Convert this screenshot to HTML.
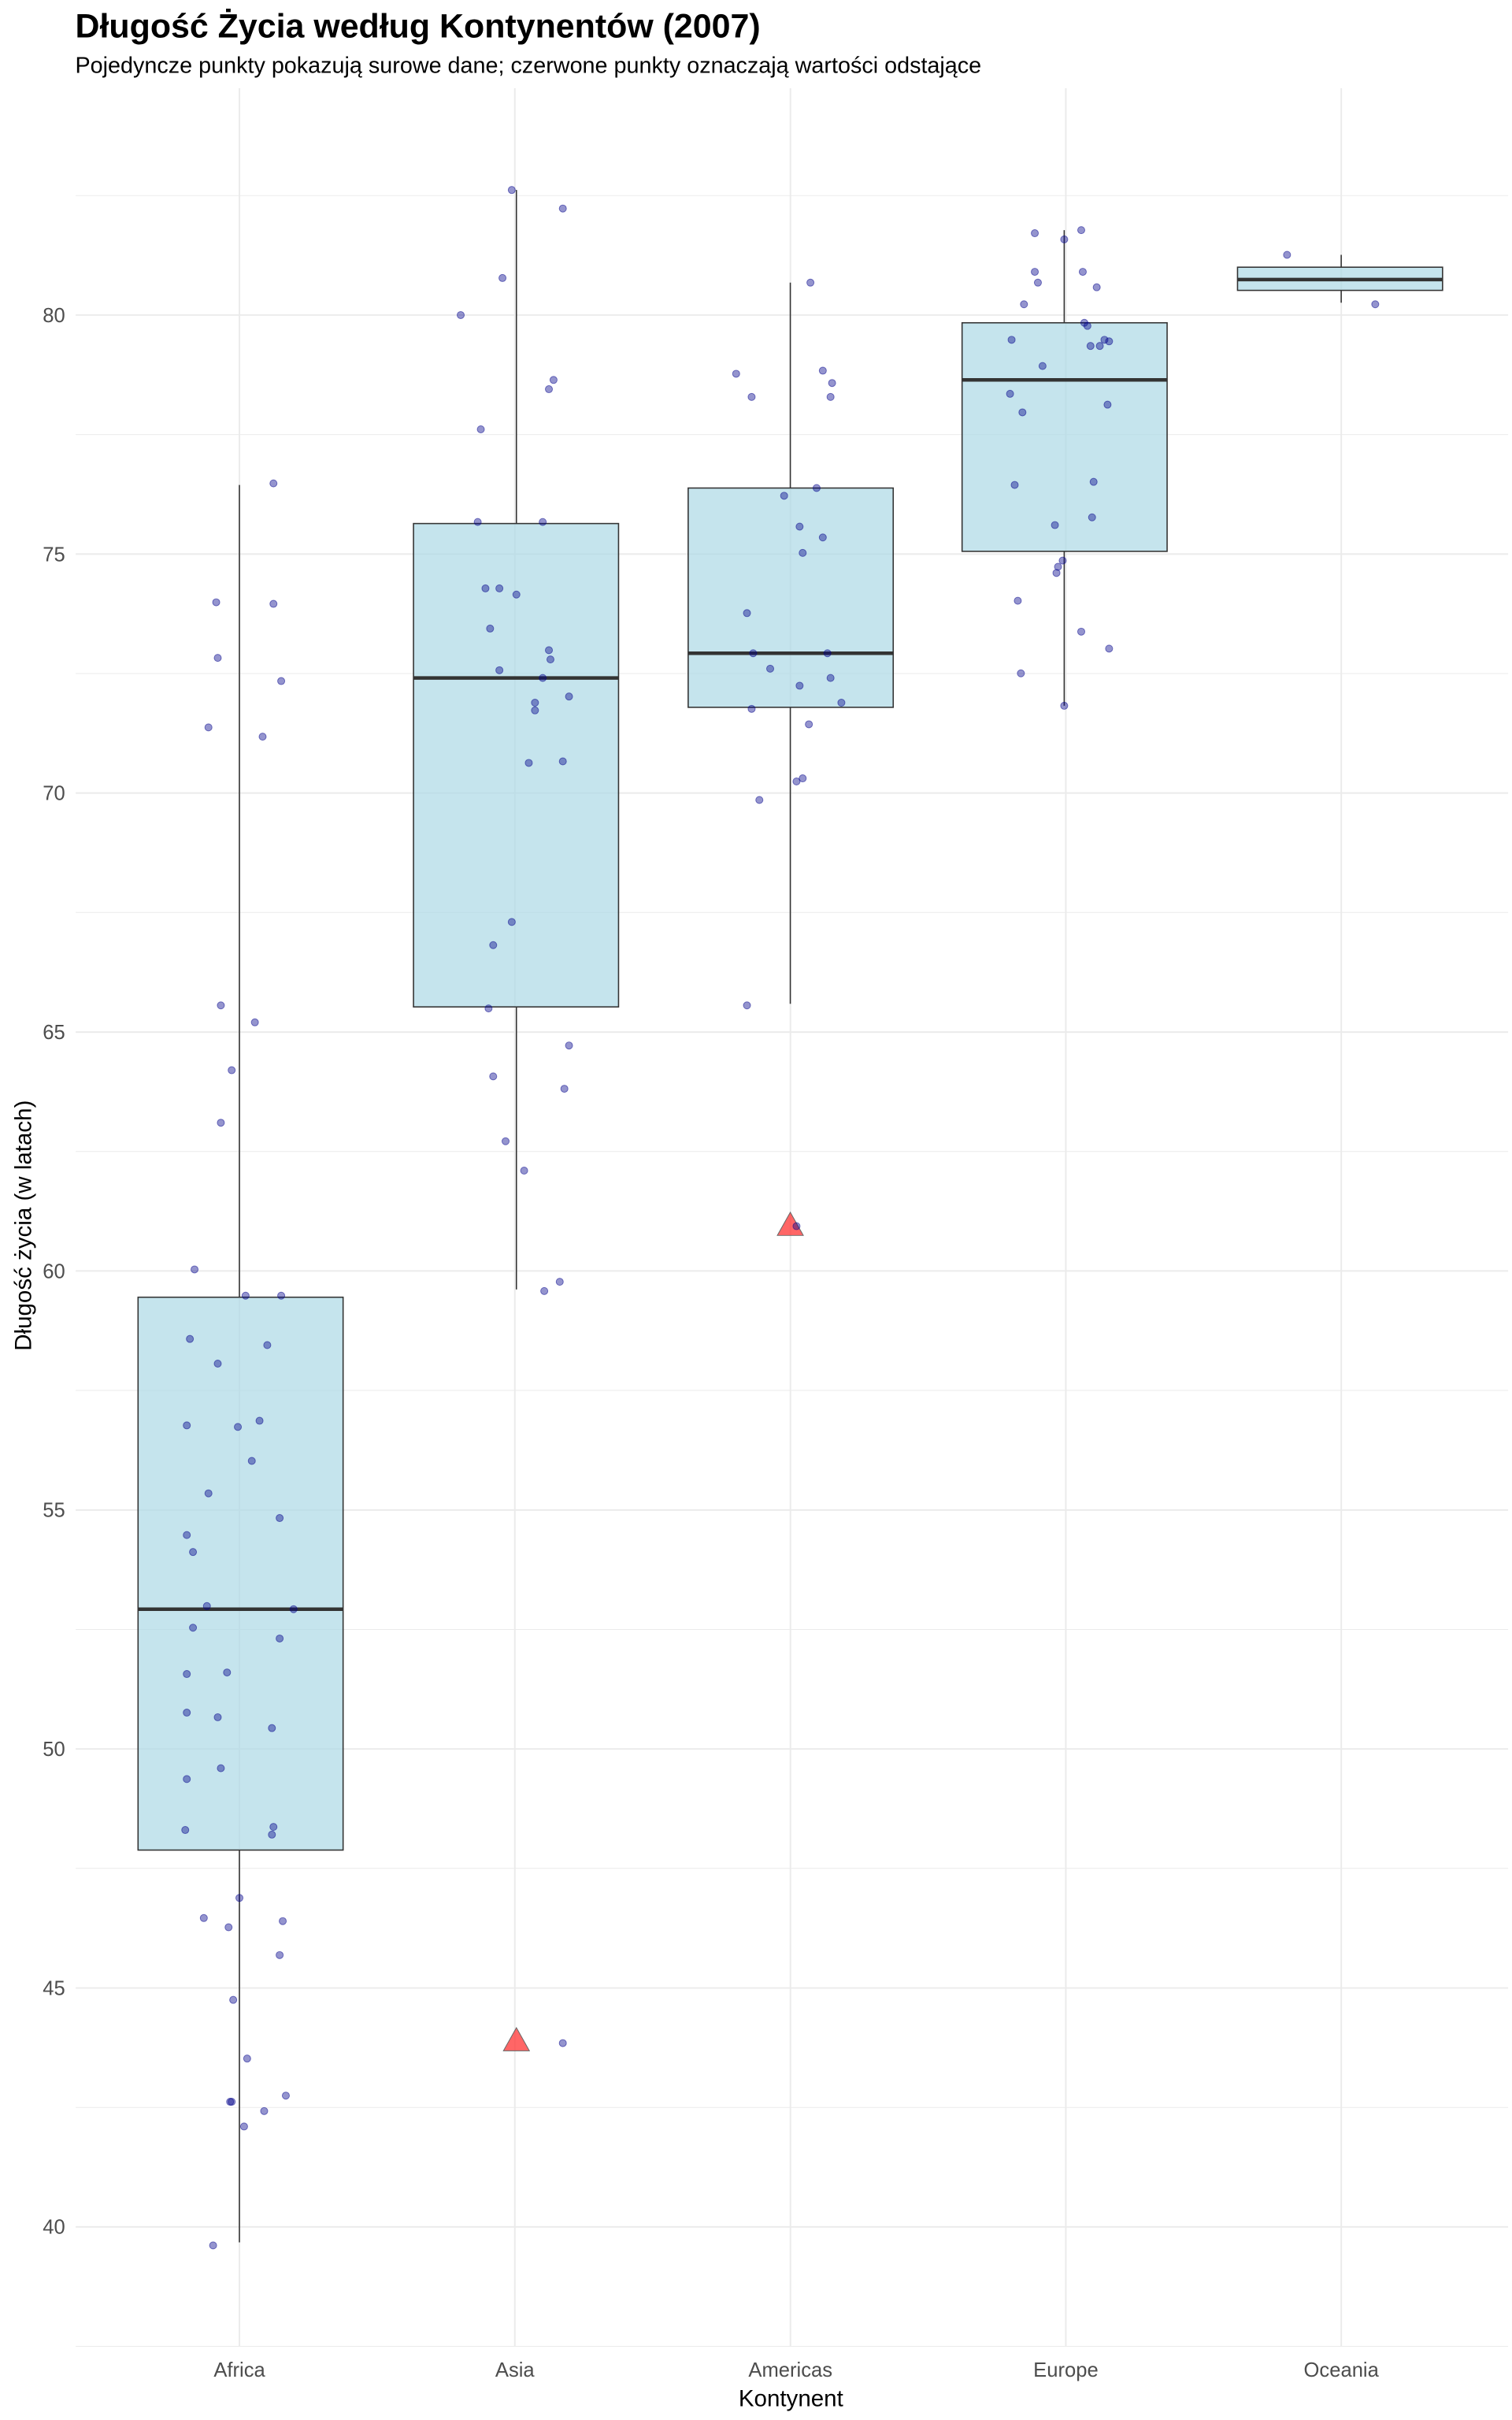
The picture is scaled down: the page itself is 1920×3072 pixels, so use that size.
<!DOCTYPE html>
<html><head><meta charset="utf-8"><style>html,body{margin:0;padding:0;background:#fff}svg{display:block}</style></head>
<body>
<svg xmlns="http://www.w3.org/2000/svg" width="1920" height="3072" viewBox="0 0 975 1560" font-family="Liberation Sans, Arial, sans-serif">
<rect width="975" height="1560" fill="#fff"/>
<g stroke="#ebebeb" stroke-width="0.5">
<line x1="48.8" x2="972.5" y1="126.1" y2="126.1"/><line x1="48.8" x2="972.5" y1="280.1" y2="280.1"/><line x1="48.8" x2="972.5" y1="434.2" y2="434.2"/><line x1="48.8" x2="972.5" y1="588.2" y2="588.2"/><line x1="48.8" x2="972.5" y1="742.3" y2="742.3"/><line x1="48.8" x2="972.5" y1="896.3" y2="896.3"/><line x1="48.8" x2="972.5" y1="1050.4" y2="1050.4"/><line x1="48.8" x2="972.5" y1="1204.4" y2="1204.4"/><line x1="48.8" x2="972.5" y1="1358.5" y2="1358.5"/><line x1="48.8" x2="972.5" y1="1512.5" y2="1512.5"/>
</g>
<g stroke="#ebebeb" stroke-width="1">
<line x1="48.8" x2="972.5" y1="203.1" y2="203.1"/><line x1="48.8" x2="972.5" y1="357.2" y2="357.2"/><line x1="48.8" x2="972.5" y1="511.2" y2="511.2"/><line x1="48.8" x2="972.5" y1="665.3" y2="665.3"/><line x1="48.8" x2="972.5" y1="819.3" y2="819.3"/><line x1="48.8" x2="972.5" y1="973.4" y2="973.4"/><line x1="48.8" x2="972.5" y1="1127.4" y2="1127.4"/><line x1="48.8" x2="972.5" y1="1281.5" y2="1281.5"/><line x1="48.8" x2="972.5" y1="1435.5" y2="1435.5"/>
<line x1="154.4" x2="154.4" y1="56.9" y2="1512.5"/><line x1="332.0" x2="332.0" y1="56.9" y2="1512.5"/><line x1="509.7" x2="509.7" y1="56.9" y2="1512.5"/><line x1="687.3" x2="687.3" y1="56.9" y2="1512.5"/><line x1="864.9" x2="864.9" y1="56.9" y2="1512.5"/>
</g>
<g transform="matrix(0.99787 0 0 0.99548 0.71 -0.97)">
<g stroke="#333" stroke-width="0.8">
<line x1="154" x2="154" y1="315" y2="841"/><line x1="154" x2="154" y1="1199" y2="1453"/>
<line x1="333" x2="333" y1="124" y2="340"/><line x1="333" x2="333" y1="653" y2="836"/>
<line x1="510" x2="510" y1="184" y2="317"/><line x1="510" x2="510" y1="459" y2="651"/>
<line x1="687" x2="687" y1="150" y2="210"/><line x1="687" x2="687" y1="358" y2="458"/>
<line x1="866" x2="866" y1="166" y2="174"/><line x1="866" x2="866" y1="189" y2="197"/>
</g>
<g fill="#add8e6" fill-opacity="0.7" stroke="#333" stroke-width="0.8">
<rect x="88.5" y="841" width="132.5" height="358"/>
<rect x="266.5" y="340" width="132.5" height="313"/>
<rect x="444" y="317" width="132.5" height="142"/>
<rect x="621" y="210" width="132.5" height="148"/>
<rect x="799" y="174" width="132.5" height="15"/>
</g>
<g stroke="#333" stroke-width="2.3">
<line x1="88.5" x2="221" y1="1043" y2="1043"/>
<line x1="266.5" x2="399" y1="440" y2="440"/>
<line x1="444" x2="576.5" y1="424" y2="424"/>
<line x1="621" x2="753.5" y1="247" y2="247"/>
<line x1="799" x2="931.5" y1="182" y2="182"/>
</g>
<g fill="#ff3333" fill-opacity="0.75" stroke="#666" stroke-width="0.5">
<polygon points="333,1314 324.6,1329 341.4,1329"/>
<polygon points="510,786 501.6,801 518.4,801"/>
</g>
<g fill="#00008b" fill-opacity="0.42" stroke="#00008b" stroke-opacity="0.5" stroke-width="0.5">
<circle cx="176" cy="314" r="2.3"/><circle cx="139" cy="391" r="2.3"/><circle cx="176" cy="392" r="2.3"/><circle cx="140" cy="427" r="2.3"/><circle cx="181" cy="442" r="2.3"/><circle cx="134" cy="472" r="2.3"/><circle cx="169" cy="478" r="2.3"/><circle cx="142" cy="652" r="2.3"/><circle cx="164" cy="663" r="2.3"/><circle cx="149" cy="694" r="2.3"/><circle cx="142" cy="728" r="2.3"/><circle cx="125" cy="823" r="2.3"/><circle cx="158" cy="840" r="2.3"/><circle cx="181" cy="840" r="2.3"/><circle cx="122" cy="868" r="2.3"/><circle cx="140" cy="884" r="2.3"/><circle cx="172" cy="872" r="2.3"/><circle cx="120" cy="924" r="2.3"/><circle cx="153" cy="925" r="2.3"/><circle cx="167" cy="921" r="2.3"/><circle cx="162" cy="947" r="2.3"/><circle cx="134" cy="968" r="2.3"/><circle cx="180" cy="984" r="2.3"/><circle cx="120" cy="995" r="2.3"/><circle cx="124" cy="1006" r="2.3"/><circle cx="133" cy="1041" r="2.3"/><circle cx="189" cy="1043" r="2.3"/><circle cx="124" cy="1055" r="2.3"/><circle cx="180" cy="1062" r="2.3"/><circle cx="120" cy="1085" r="2.3"/><circle cx="146" cy="1084" r="2.3"/><circle cx="120" cy="1110" r="2.3"/><circle cx="140" cy="1113" r="2.3"/><circle cx="175" cy="1120" r="2.3"/><circle cx="142" cy="1146" r="2.3"/><circle cx="120" cy="1153" r="2.3"/><circle cx="176" cy="1184" r="2.3"/><circle cx="119" cy="1186" r="2.3"/><circle cx="175" cy="1189" r="2.3"/><circle cx="154" cy="1230" r="2.3"/><circle cx="131" cy="1243" r="2.3"/><circle cx="147" cy="1249" r="2.3"/><circle cx="182" cy="1245" r="2.3"/><circle cx="180" cy="1267" r="2.3"/><circle cx="150" cy="1296" r="2.3"/><circle cx="159" cy="1334" r="2.3"/><circle cx="148" cy="1362" r="2.3"/><circle cx="149" cy="1362" r="2.3"/><circle cx="184" cy="1358" r="2.3"/><circle cx="170" cy="1368" r="2.3"/><circle cx="157" cy="1378" r="2.3"/><circle cx="137" cy="1455" r="2.3"/>
<circle cx="330" cy="124" r="2.3"/><circle cx="363" cy="136" r="2.3"/><circle cx="324" cy="181" r="2.3"/><circle cx="297" cy="205" r="2.3"/><circle cx="357" cy="247" r="2.3"/><circle cx="354" cy="253" r="2.3"/><circle cx="310" cy="279" r="2.3"/><circle cx="308" cy="339" r="2.3"/><circle cx="350" cy="339" r="2.3"/><circle cx="313" cy="382" r="2.3"/><circle cx="322" cy="382" r="2.3"/><circle cx="333" cy="386" r="2.3"/><circle cx="316" cy="408" r="2.3"/><circle cx="354" cy="422" r="2.3"/><circle cx="355" cy="428" r="2.3"/><circle cx="322" cy="435" r="2.3"/><circle cx="350" cy="440" r="2.3"/><circle cx="367" cy="452" r="2.3"/><circle cx="345" cy="461" r="2.3"/><circle cx="345" cy="456" r="2.3"/><circle cx="341" cy="495" r="2.3"/><circle cx="363" cy="494" r="2.3"/><circle cx="330" cy="598" r="2.3"/><circle cx="318" cy="613" r="2.3"/><circle cx="315" cy="654" r="2.3"/><circle cx="367" cy="678" r="2.3"/><circle cx="318" cy="698" r="2.3"/><circle cx="364" cy="706" r="2.3"/><circle cx="326" cy="740" r="2.3"/><circle cx="338" cy="759" r="2.3"/><circle cx="361" cy="831" r="2.3"/><circle cx="351" cy="837" r="2.3"/><circle cx="363" cy="1324" r="2.3"/>
<circle cx="523" cy="184" r="2.3"/><circle cx="475" cy="243" r="2.3"/><circle cx="531" cy="241" r="2.3"/><circle cx="537" cy="249" r="2.3"/><circle cx="485" cy="258" r="2.3"/><circle cx="536" cy="258" r="2.3"/><circle cx="506" cy="322" r="2.3"/><circle cx="527" cy="317" r="2.3"/><circle cx="516" cy="342" r="2.3"/><circle cx="531" cy="349" r="2.3"/><circle cx="518" cy="359" r="2.3"/><circle cx="482" cy="398" r="2.3"/><circle cx="486" cy="424" r="2.3"/><circle cx="534" cy="424" r="2.3"/><circle cx="497" cy="434" r="2.3"/><circle cx="536" cy="440" r="2.3"/><circle cx="516" cy="445" r="2.3"/><circle cx="543" cy="456" r="2.3"/><circle cx="485" cy="460" r="2.3"/><circle cx="522" cy="470" r="2.3"/><circle cx="518" cy="505" r="2.3"/><circle cx="514" cy="507" r="2.3"/><circle cx="490" cy="519" r="2.3"/><circle cx="482" cy="652" r="2.3"/><circle cx="514" cy="795" r="2.3"/>
<circle cx="668" cy="152" r="2.3"/><circle cx="698" cy="150" r="2.3"/><circle cx="687" cy="156" r="2.3"/><circle cx="668" cy="177" r="2.3"/><circle cx="699" cy="177" r="2.3"/><circle cx="670" cy="184" r="2.3"/><circle cx="708" cy="187" r="2.3"/><circle cx="661" cy="198" r="2.3"/><circle cx="700" cy="210" r="2.3"/><circle cx="702" cy="212" r="2.3"/><circle cx="653" cy="221" r="2.3"/><circle cx="713" cy="221" r="2.3"/><circle cx="716" cy="222" r="2.3"/><circle cx="710" cy="225" r="2.3"/><circle cx="704" cy="225" r="2.3"/><circle cx="673" cy="238" r="2.3"/><circle cx="652" cy="256" r="2.3"/><circle cx="660" cy="268" r="2.3"/><circle cx="715" cy="263" r="2.3"/><circle cx="706" cy="313" r="2.3"/><circle cx="655" cy="315" r="2.3"/><circle cx="705" cy="336" r="2.3"/><circle cx="681" cy="341" r="2.3"/><circle cx="686" cy="364" r="2.3"/><circle cx="683" cy="368" r="2.3"/><circle cx="682" cy="372" r="2.3"/><circle cx="657" cy="390" r="2.3"/><circle cx="698" cy="410" r="2.3"/><circle cx="659" cy="437" r="2.3"/><circle cx="716" cy="421" r="2.3"/><circle cx="687" cy="458" r="2.3"/>
<circle cx="831" cy="166" r="2.3"/><circle cx="888" cy="198" r="2.3"/>
</g>
</g>
<g font-size="13" fill="#4d4d4d" text-anchor="end">
<text x="42" y="207.6">80</text><text x="42" y="361.7">75</text><text x="42" y="515.7">70</text><text x="42" y="669.8">65</text><text x="42" y="823.8">60</text><text x="42" y="977.9">55</text><text x="42" y="1131.9">50</text><text x="42" y="1286">45</text><text x="42" y="1440">40</text>
</g>
<g font-size="13" fill="#4d4d4d" text-anchor="middle">
<text x="154.4" y="1532">Africa</text><text x="332" y="1532">Asia</text><text x="509.7" y="1532">Americas</text><text x="687.3" y="1532">Europe</text><text x="864.9" y="1532">Oceania</text>
</g>
<text x="510" y="1551" font-size="15" text-anchor="middle" fill="#000">Kontynent</text>
<text transform="translate(20,790) rotate(-90)" font-size="15" text-anchor="middle" fill="#000">Długość życia (w latach)</text>
<text x="48.5" y="24" font-size="21.8" font-weight="bold" fill="#000">Długość Życia według Kontynentów (2007)</text>
<text x="48.5" y="47" font-size="14.6" fill="#000">Pojedyncze punkty pokazują surowe dane; czerwone punkty oznaczają wartości odstające</text>
</svg>
</body></html>
